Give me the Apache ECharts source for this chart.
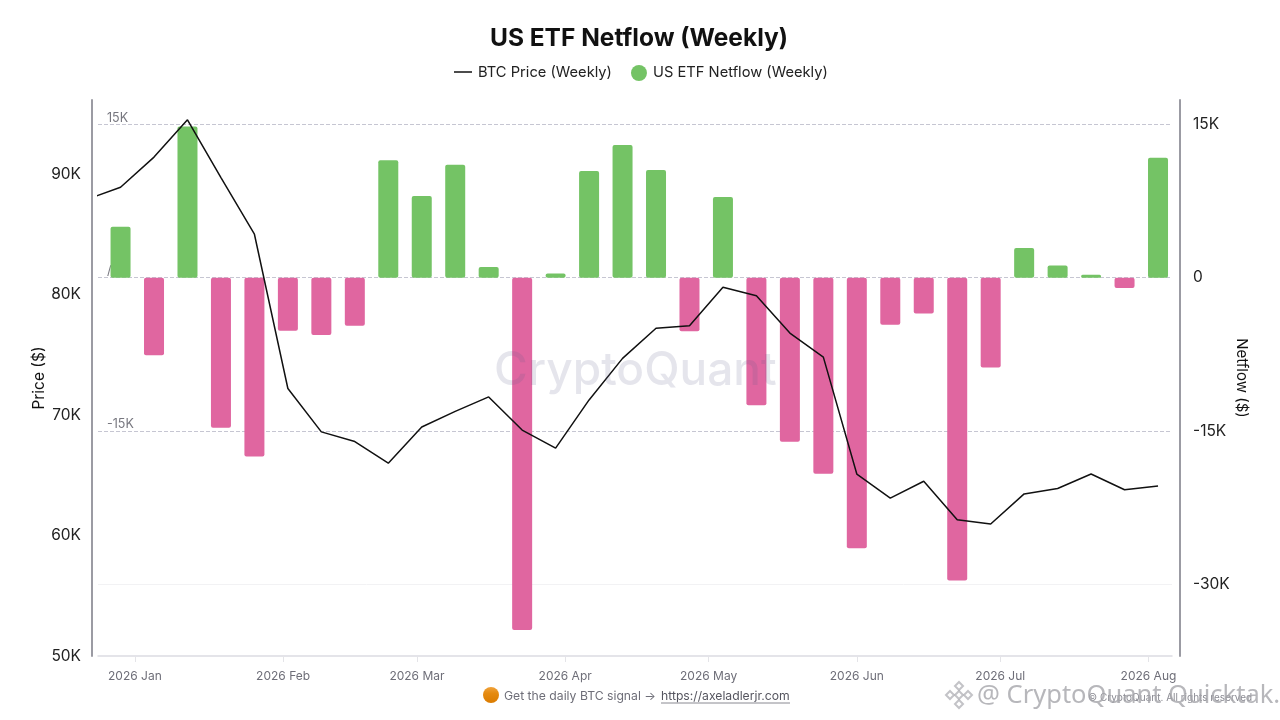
<!DOCTYPE html>
<html><head><meta charset="utf-8">
<style>html,body{margin:0;padding:0;background:#fff}#c{width:1280px;height:720px}</style>
<script src="https://cdn.jsdelivr.net/npm/echarts@6/dist/echarts.min.js"></script>
</head><body><div id="c"></div>
<script>
const weeks = ['2025-12-22','2025-12-29','2026-01-05','2026-01-12','2026-01-19','2026-01-26','2026-02-02','2026-02-09','2026-02-16','2026-02-23','2026-03-02','2026-03-09','2026-03-16','2026-03-23','2026-03-30','2026-04-06','2026-04-13','2026-04-20','2026-04-27','2026-05-04','2026-05-11','2026-05-18','2026-05-25','2026-06-01','2026-06-08','2026-06-15','2026-06-22','2026-06-29','2026-07-06','2026-07-13','2026-07-20','2026-07-27','2026-08-03'];
const price = [87900,88900,91400,94500,89700,85000,72200,68600,67800,66000,69000,70300,71500,68750,67250,71250,74700,77200,77400,80600,79900,76800,74800,65100,63100,64500,61300,60950,63450,63900,65100,63800,64100];
const netflowWeeks = weeks.slice(1);
const netflow = [5000,-7600,14800,-14700,-17500,-5200,-5600,-4700,11500,8000,11050,1050,-34500,400,10450,13000,10550,-5250,7900,-12500,-16050,-19200,-26500,-4600,-3500,-29650,-8800,2900,1200,300,-1000,11750];
const tickDates = ['2026-01-01','2026-02-01','2026-03-01','2026-04-01','2026-05-01','2026-06-01','2026-07-01','2026-08-01'];
const tickLabels = ['2026 Jan','2026 Feb','2026 Mar','2026 Apr','2026 May','2026 Jun','2026 Jul','2026 Aug'];
const priceTicks = [50000,60000,70000,80000,90000];
const flowTicks = [-30000,-15000,0,15000];
const ts = s => Date.parse(s + 'T00:00:00Z');
const K = v => v === 0 ? '0' : (v / 1000) + 'K';
const FONT = 'Inter';
const DAY = 86400000;
const chart = echarts.init(document.getElementById('c'), null, {renderer:'canvas', useUTC:true});
const guide = (v, text, color, type) => ({
  yAxis: v,
  lineStyle: {color, type, width: 1},
  label: {show: !!text, formatter: text || '', position: 'insideStartTop', distance: [9, 0], color: '#77777f', fontSize: 12.5, fontFamily: FONT}
});
const logoMark = (cx, cy, r) => ({type: 'polygon', shape: {points: [[cx, cy - r], [cx + r, cy], [cx, cy + r], [cx - r, cy]]}, z: 21, silent: true,
  style: {fill: 'none', stroke: 'rgba(175,175,180,0.75)', lineWidth: 2}});
chart.setOption({
  animation: false,
  useUTC: true,
  textStyle: {fontFamily: FONT},
  title: {text: 'US ETF Netflow (Weekly)', left: 634, top: 21, textAlign: 'center',
    textStyle: {fontSize: 24.5, fontWeight: 700, color: '#111', fontFamily: FONT}},
  legend: {
    top: 60, left: 450, itemGap: 19, itemWidth: 18, itemHeight: 16, selectedMode: false,
    textStyle: {fontSize: 14.7, color: '#222', fontFamily: FONT},
    data: [{name: 'BTC Price (Weekly)', icon: 'none'}, {name: 'US ETF Netflow (Weekly)', icon: 'circle', itemStyle: {color: '#74c365'}}]
  },
  grid: {left: 98, right: 108, top: 100, bottom: 64},
  xAxis: {
    type: 'time',
    min: Date.UTC(2025, 11, 26, 9), max: Date.UTC(2026, 7, 3, 20),
    minInterval: 28 * DAY, maxInterval: 31 * DAY,
    axisLine: {onZero: false, lineStyle: {color: '#dcdce2', width: 1.5}},
    axisTick: {show: true, length: 6, lineStyle: {color: '#e4e4e8'}},
    splitLine: {show: false},
    axisLabel: {color: '#6e6e78', fontSize: 12, margin: 14, fontFamily: FONT, hideOverlap: false,
      showMinLabel: false, showMaxLabel: false,
      formatter: v => tickLabels[tickDates.map(ts).indexOf(typeof v === 'number' ? v : +v)] || ''}
  },
  yAxis: [{
    type: 'value', position: 'left', offset: 6, min: 50000, max: 96140,
    name: 'Price ($)', nameLocation: 'middle', nameGap: 45, nameRotate: 90, nameMoveOverlap: false,
    nameTextStyle: {color: '#111', fontSize: 15.5, fontFamily: FONT},
    axisLine: {show: true, onZero: false, lineStyle: {color: '#9b9ba3', width: 2}},
    axisTick: {show: false},
    axisLabel: {color: '#222', fontSize: 15.5, margin: 11, fontFamily: FONT, formatter: K, customValues: priceTicks},
    splitLine: {show: false}
  }, {
    type: 'value', position: 'right', offset: 8, min: -37040, max: 17400,
    name: 'Netflow ($)', nameLocation: 'middle', nameGap: 54, nameRotate: -90, nameMoveOverlap: false,
    nameTextStyle: {color: '#111', fontSize: 15, fontFamily: FONT},
    axisLine: {show: true, onZero: false, lineStyle: {color: '#9b9ba3', width: 2}},
    axisTick: {show: false},
    axisLabel: {color: '#222', fontSize: 15.5, margin: 13, fontFamily: FONT, formatter: K, customValues: flowTicks},
    splitLine: {show: false}
  }],
  series: [{
    name: 'BTC Price (Weekly)', type: 'line', yAxisIndex: 0, z: 5, symbol: 'none', smooth: false,
    lineStyle: {color: '#111', width: 1.5}, itemStyle: {color: '#111'},
    data: weeks.map((d, i) => [ts(d), price[i]])
  }, {
    name: 'US ETF Netflow (Weekly)', type: 'bar', yAxisIndex: 1, z: 2, barWidth: 20,
    itemStyle: {borderRadius: 2, color: p => p.value[1] >= 0 ? '#74c365' : '#e066a0'},
    data: netflowWeeks.map((d, i) => [ts(d), netflow[i]]),
    markLine: {
      silent: true, symbol: 'none', animation: false, z: 1,
      data: [
        guide(15000, '15K', '#c6c6d2', 'dashed'),
        guide(0, '/', '#c6c6d2', 'dashed'),
        guide(-15000, '-15K', '#c6c6d2', 'dashed'),
        guide(-30000, '', '#f2f2f4', 'solid')
      ]
    }
  }],
  graphic: [
    {type: 'line', shape: {x1: 454, y1: 72, x2: 472, y2: 72}, z: 20, silent: true, style: {stroke: '#111', lineWidth: 1.5}},
    {type: 'text', left: 494, top: 348, z: 50, silent: true,
      style: {text: 'CryptoQuant', fontSize: 46, fontWeight: 500, fontFamily: FONT, fill: 'rgba(95,95,135,0.16)'}},
    {type: 'circle', shape: {cx: 491, cy: 695, r: 8}, z: 20, silent: true,
      style: {fill: new echarts.graphic.LinearGradient(0, 0, 0, 1, [{offset: 0, color: '#f0a23a'}, {offset: 0.4, color: '#e58a10'}, {offset: 1, color: '#db7c00'}])}},
    {type: 'text', left: 504, top: 690, z: 20, silent: true,
      style: {text: 'Get the daily BTC signal →', fontSize: 12.2, fontFamily: FONT, fill: '#6e6e78'}},
    {type: 'text', left: 661, top: 690, z: 20, silent: true,
      style: {text: 'https://axeladlerjr.com', fontSize: 12.2, fontFamily: FONT, fill: '#55555f'}},
    {type: 'line', shape: {x1: 661, y1: 703, x2: 790, y2: 703}, z: 20, silent: true, style: {stroke: '#8a8a92', lineWidth: 1}},
    {type: 'text', left: 1088, top: 693, z: 20, silent: true,
      style: {text: '© CryptoQuant. All rights reserved', fontSize: 10, fontFamily: FONT, fill: '#8a8a92'}},
    logoMark(959, 695, 4), logoMark(959, 686, 4), logoMark(959, 704, 4), logoMark(950, 695, 4), logoMark(968, 695, 4),
    {type: 'text', left: 977, top: 683, z: 21, silent: true,
      style: {text: '@ CryptoQuant Quicktak…', fontSize: 25.5, fontFamily: 'Noto Sans', fill: 'rgba(165,165,170,0.8)'}}
  ]
});
</script></body></html>
